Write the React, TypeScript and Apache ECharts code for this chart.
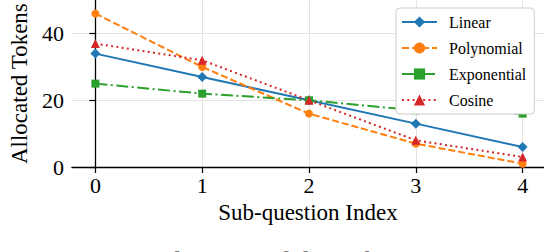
import React, { useEffect, useRef } from "react";
import * as echarts from "echarts";

const categories = [0, 1, 2, 3, 4];
const linear = [34, 27, 20, 13, 6];
const polynomial = [46, 30, 16, 7, 1];
const exponential = [25, 22, 20, 17, 16];
const cosine = [37, 32, 20, 8, 3];
const yTicks = [0, 20, 40];
const seriesNames = ["Linear", "Polynomial", "Exponential", "Cosine"];
const caption = "Figure 3: Visualization of these functions. W";

const FONT = "'Liberation Serif', 'Times New Roman', 'DejaVu Serif', serif";

export default function App() {
  const ref = useRef<HTMLDivElement>(null);
  useEffect(() => {
    if (!ref.current) return;
    const chart = echarts.init(ref.current, undefined, { renderer: "svg" });
    const pts = (arr: number[]) => categories.map((c, i) => [c, arr[i]]);
    const mk = (
      name: string,
      arr: number[],
      color: string,
      symbol: string,
      size: number,
      type: any
    ) => ({
      name,
      type: "line",
      data: pts(arr),
      symbol,
      symbolSize: size,
      showSymbol: true,
      itemStyle: { color },
      lineStyle: { color, width: 2, type },
      z: 3,
    });
    chart.setOption({
      animation: false,
      textStyle: { fontFamily: FONT },
      grid: { left: 61, right: 0, top: 0, bottom: 85, containLabel: false },
      legend: {
        orient: "vertical",
        left: 396,
        top: 8,
        itemWidth: 35,
        itemHeight: 14,
        itemGap: 10,
        padding: [6, 8, 6, 5],
        backgroundColor: "#ffffff",
        borderColor: "#cccccc",
        borderWidth: 1,
        borderRadius: 4,
        data: seriesNames,
        textStyle: { fontFamily: FONT, fontSize: 16, color: "#000", padding: [0, 0, 0, 7] },
      },
      xAxis: {
        type: "value",
        min: -0.22,
        max: 4.2,
        name: "Sub-question Index",
        nameLocation: "middle",
        nameGap: 33,
        nameTextStyle: { fontFamily: FONT, fontSize: 23, color: "#000" },
        axisLine: { show: true, lineStyle: { color: "#000", width: 1.3 } },
        axisTick: { show: true, customValues: categories, length: 6, lineStyle: { color: "#000", width: 1.2 } },
        axisLabel: { customValues: categories, fontFamily: FONT, fontSize: 22, color: "#000", margin: 7 },
        splitLine: { show: true, lineStyle: { color: "#e3e3e3", width: 1 } },
      },
      yAxis: {
        type: "value",
        min: 0,
        max: 50,
        name: "Allocated Tokens",
        nameLocation: "middle",
        nameGap: 34,
        nameTextStyle: { fontFamily: FONT, fontSize: 23, color: "#000" },
        axisLine: { show: true, lineStyle: { color: "#000", width: 1.3 } },
        axisTick: { show: true, customValues: yTicks, length: 6, lineStyle: { color: "#000", width: 1.2 } },
        axisLabel: { customValues: yTicks, fontFamily: FONT, fontSize: 22, color: "#000", margin: 8 },
        splitLine: { show: true, lineStyle: { color: "#e3e3e3", width: 1 } },
      },
      graphic: [
        {
          type: "text",
          left: 2,
          top: 246,
          style: { text: caption, fontFamily: FONT, fontSize: 28, fill: "#777" },
        },
      ],
      series: [
        mk(seriesNames[0], linear, "#1f77b4", "diamond", 10, "solid"),
        mk(seriesNames[1], polynomial, "#ff7f0e", "circle", 8, [7, 3]),
        mk(seriesNames[2], exponential, "#2ca02c", "rect", 8, [12, 3.5, 2, 3.5]),
        mk(seriesNames[3], cosine, "#d62728", "triangle", 9, [2, 3.3]),
      ],
    });
    return () => chart.dispose();
  }, []);
  return (
    <div
      ref={ref}
      style={{ position: "absolute", left: 0, top: 0, width: 544, height: 252, background: "#fff" }}
    />
  );
}
